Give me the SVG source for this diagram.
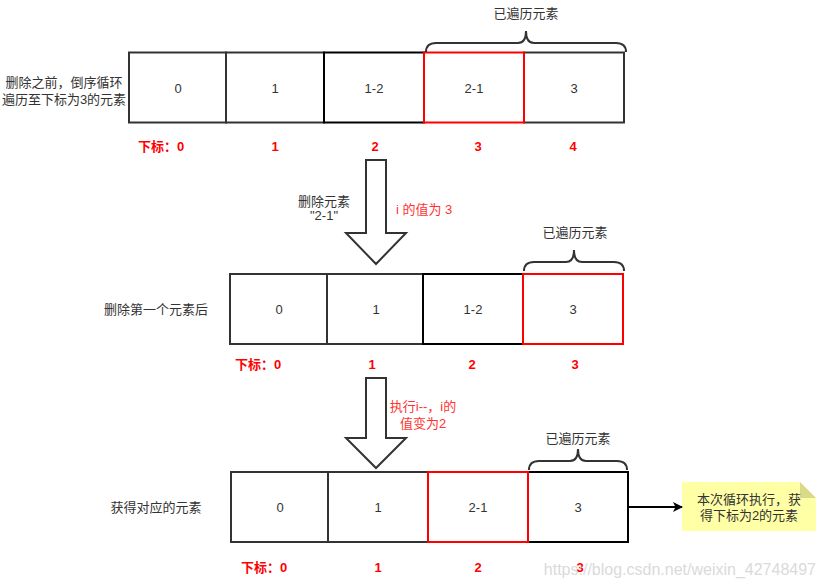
<svg xmlns="http://www.w3.org/2000/svg" width="826" height="588" viewBox="0 0 826 588">
<defs>
<style>
text{font-family:"Liberation Sans","Noto Sans CJK SC",sans-serif;dominant-baseline:central;}
.cell{fill:#fff;stroke:#333;stroke-width:2;}
.blk{fill:#fff;stroke:#000;stroke-width:2;}
.red{fill:#fff;stroke:#ff0000;stroke-width:2;}
.ct{font-size:13px;fill:#333;text-anchor:middle;}
.lbl{font-size:13px;fill:#333;text-anchor:middle;}
.idx{font-size:13px;fill:#ff0000;font-weight:bold;text-anchor:middle;}
.rt{font-size:13px;fill:#ff3333;}
.brace{fill:none;stroke:#333;stroke-width:2;}
.bigarrow{fill:#fff;stroke:#333;stroke-width:2;stroke-linejoin:miter;}
.wm{font-size:16px;fill:#dadada;text-anchor:end;}
</style>
<marker id="ah" markerWidth="10" markerHeight="10" refX="9" refY="5" orient="auto" markerUnits="userSpaceOnUse">
<path d="M0,0 L10,5 L0,10 L2.5,5 Z" fill="#000"/>
</marker>
</defs>
<rect width="826" height="588" fill="#fff"/>

<!-- Row 1 -->
<g id="row1">
<text class="lbl" x="64" y="82">删除之前，倒序循环</text>
<text class="lbl" x="64" y="99">遍历至下标为3的元素</text>
<g id="r1c0"><rect class="cell" x="129" y="52.5" width="97" height="70"/><text class="ct" x="178" y="88">0</text></g>
<g id="r1c1"><rect class="cell" x="226" y="52.5" width="98" height="70"/><text class="ct" x="275" y="88">1</text></g>
<g id="r1c4"><rect class="cell" x="524" y="52.5" width="100" height="70"/><text class="ct" x="574" y="88">3</text></g>
<g id="r1c2"><rect class="blk" x="324" y="52.5" width="100" height="70"/><text class="ct" x="374" y="88">1-2</text></g>
<g id="r1c3"><rect class="red" x="424" y="52.5" width="100" height="70"/><text class="ct" x="474" y="88">2-1</text></g>
<g id="r1brace"><path class="brace" d="M426,52 Q426,43 436,43 L518,43 Q526,43 526,31 Q526,43 534,43 L616,43 Q626,43 626,52"/><text class="lbl" x="526" y="13">已遍历元素</text></g>
<g id="r1idx">
<text class="idx" x="161" y="146">下标：0</text>
<text class="idx" x="275" y="146">1</text>
<text class="idx" x="375" y="146">2</text>
<text class="idx" x="478" y="146">3</text>
<text class="idx" x="573" y="146">4</text>
</g>
</g>

<!-- Arrow 1 -->
<g id="arrow1">
<path class="bigarrow" d="M366,160 L386,160 L386,233 L406,233 L376,264 L346,233 L366,233 Z"/>
<text class="lbl" x="324" y="201">删除元素</text>
<text class="lbl" x="324" y="215">"2-1"</text>
<text class="rt" x="396" y="209">i 的值为 3</text>
</g>

<!-- Row 2 -->
<g id="row2">
<text class="lbl" x="156" y="309">删除第一个元素后</text>
<g id="r2c0"><rect class="cell" x="230" y="274" width="97" height="70"/><text class="ct" x="279" y="309">0</text></g>
<g id="r2c1"><rect class="cell" x="327" y="274" width="96" height="70"/><text class="ct" x="376" y="309">1</text></g>
<g id="r2c2"><rect class="blk" x="423" y="274" width="100" height="70"/><text class="ct" x="473" y="309">1-2</text></g>
<g id="r2c3"><rect class="red" x="523" y="274" width="100" height="70"/><text class="ct" x="573" y="309">3</text></g>
<g id="r2brace"><path class="brace" d="M524,271 Q524,262 534,262 L566,262 Q574,262 574,250 Q574,262 582,262 L614,262 Q624,262 624,271"/><text class="lbl" x="575" y="232">已遍历元素</text></g>
<g id="r2idx">
<text class="idx" x="258" y="364">下标：0</text>
<text class="idx" x="372" y="364">1</text>
<text class="idx" x="472" y="364">2</text>
<text class="idx" x="575" y="364">3</text>
</g>
</g>

<!-- Arrow 2 -->
<g id="arrow2">
<path class="bigarrow" d="M366,378 L386,378 L386,438 L406,438 L376,468 L346,438 L366,438 Z"/>
<text class="rt" x="423" y="406" text-anchor="middle">执行i--，i的</text>
<text class="rt" x="423" y="423" text-anchor="middle">值变为2</text>
</g>

<!-- Row 3 -->
<g id="row3">
<text class="lbl" x="156" y="507">获得对应的元素</text>
<g id="r3c0"><rect class="cell" x="231" y="472" width="97" height="70"/><text class="ct" x="280" y="507">0</text></g>
<g id="r3c1"><rect class="cell" x="328" y="472" width="100" height="70"/><text class="ct" x="378" y="507">1</text></g>
<g id="r3c3"><rect class="blk" x="528" y="472" width="100" height="70"/><text class="ct" x="578" y="507">3</text></g>
<g id="r3c2"><rect class="red" x="428" y="472" width="100" height="70"/><text class="ct" x="478" y="507">2-1</text></g>
<g id="r3brace"><path class="brace" d="M529,470 Q529,461 539,461 L570,461 Q578,461 578,449 Q578,461 586,461 L617,461 Q627,461 627,470"/><text class="lbl" x="578" y="438">已遍历元素</text></g>
<g id="r3idx">
<text class="idx" x="264" y="567">下标：0</text>
<text class="idx" x="378" y="567">1</text>
<text class="idx" x="478" y="567">2</text>
<text class="idx" x="580" y="567">3</text>
</g>
</g>

<!-- Note -->
<g id="note">
<path d="M682,482 L800,482 L816,498 L816,531 L682,531 Z" fill="#ffffa6"/>
<path d="M800,482 L816,498 L800,498 Z" fill="#d9d98a"/>
<text class="lbl" x="749" y="499">本次循环执行，获</text>
<text class="lbl" x="749" y="515">得下标为2的元素</text>
</g>

<!-- Connectors -->
<g id="connectors">
<line x1="628" y1="507" x2="682" y2="507" stroke="#000" stroke-width="2" marker-end="url(#ah)"/>
</g>

<text class="wm" x="816" y="569">https://blog.csdn.net/weixin_42748497</text>
</svg>
